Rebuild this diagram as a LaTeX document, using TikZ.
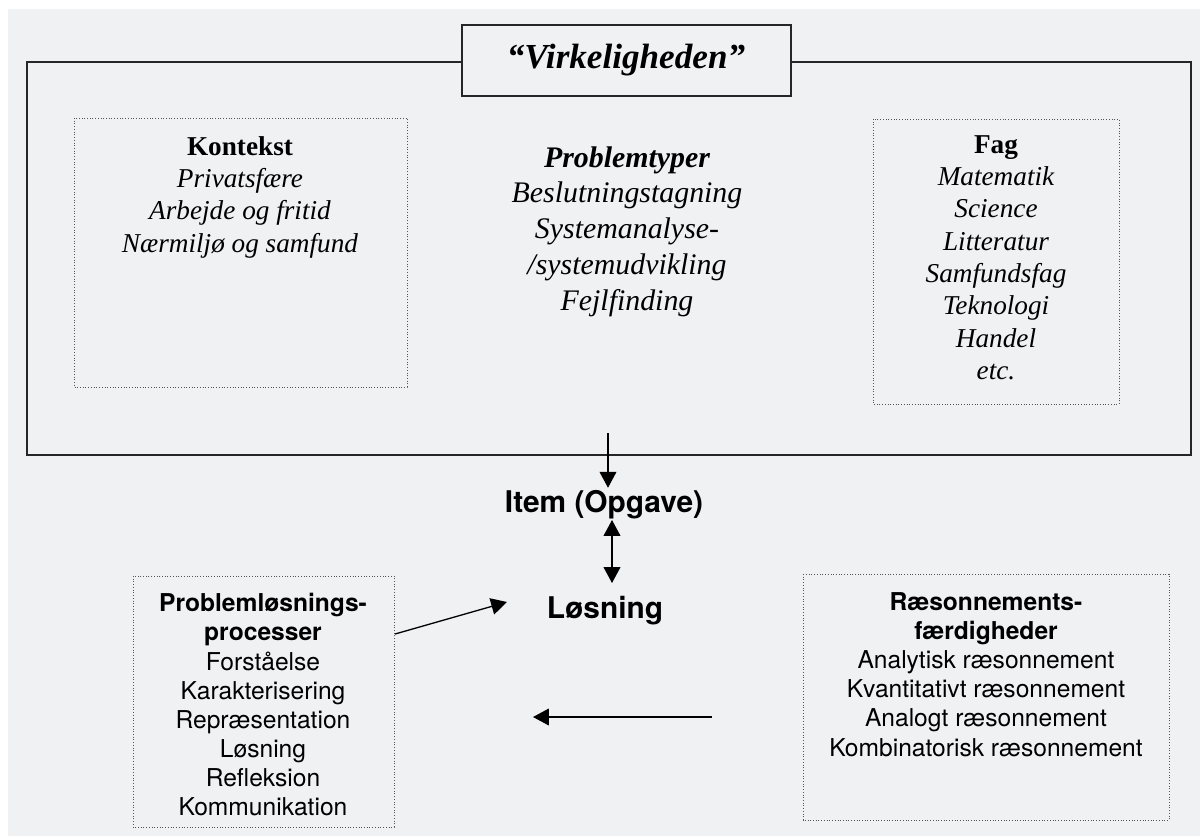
\documentclass[tikz,border=0pt]{standalone}
\usepackage{fontspec}
\setmainfont{Liberation Serif}
\setsansfont{TeX Gyre Heros}
\usetikzlibrary{arrows.meta}
\definecolor{bggray}{RGB}{240,241,243}
\definecolor{dotgray}{RGB}{85,85,85}

\tikzset{
  linebox/.style={draw=black!85, line width=0.8pt},
  dotbox/.style={draw=dotgray, densely dotted, line width=0.55pt},
  arr/.style={-{Triangle[length=9pt,width=9.5pt]}, line width=0.75pt},
  serifbody/.style={align=center, inner sep=0pt, anchor=north,
    font=\fontsize{15.5}{18.4}\selectfont\itshape},
  sansbody/.style={align=center, inner sep=0pt, anchor=north,
    font=\sffamily\fontsize{14}{16.6}\selectfont},
  biglabel/.style={inner sep=1pt, anchor=base,
    font=\sffamily\bfseries\fontsize{17}{20}\selectfont},
}

\begin{document}
\begin{tikzpicture}[x=0.02cm,y=-0.02cm]
\useasboundingbox (0,0) rectangle (1200,836);
\fill[white] (0,0) rectangle (1200,836);
\fill[bggray] (8,9) rectangle (1200,836);

% "Virkeligheden" frame with its title
\draw[linebox] (27,62) rectangle (1191,455);
\draw[linebox, fill=bggray] (462,25) rectangle (791,96);
\node[anchor=base, inner sep=0pt, font=\fontsize{20}{24}\selectfont\bfseries\itshape]
  (title) at (626,68) {``Virkeligheden''};

% three columns inside the frame
\draw[dotbox] (74,118) rectangle (407,387);
\node[serifbody] (kontekst) at (240,136)
  {\textup{\textbf{Kontekst}}\\Privatsfære\\Arbejde og fritid\\Nærmiljø og samfund};

\node[serifbody, font=\fontsize{17}{20.4}\selectfont\itshape] (problemtyper) at (627,146)
  {\textbf{Problemtyper}\\Beslutningstagning\\Systemanalyse-\\/systemudvikling\\Fejlfinding};

\draw[dotbox] (873,119) rectangle (1119,404);
\node[serifbody] (fag) at (996,135)
  {\textup{\textbf{Fag}}\\Matematik\\Science\\Litteratur\\Samfundsfag\\Teknologi\\Handel\\etc.};

% item and solution
\node[biglabel] (item) at (604,512) {Item (Opgave)};
\node[biglabel] (losning) at (605,618) {Løsning};

% lower boxes
\draw[dotbox] (133,576) rectangle (394,827);
\node[sansbody] (processer) at (263,593)
  {\textbf{Problemløsnings-}\\\textbf{processer}\\Forståelse\\Karakterisering\\Repræsentation\\Løsning\\Refleksion\\Kommunikation};

\draw[dotbox] (803,574) rectangle (1169,820);
\node[sansbody] (raesonnement) at (986,592)
  {\textbf{Ræsonnements-}\\\textbf{færdigheder}\\Analytisk ræsonnement\\Kvantitativt ræsonnement\\Analogt ræsonnement\\Kombinatorisk ræsonnement};

% arrows
\coordinate (framein) at (608,433);
\coordinate (itembot) at (612,520);
\coordinate (losningtop) at (612,583);
\coordinate (procout) at (395,634);
\coordinate (losningin) at (507,602);
\coordinate (raesout) at (712,717);
\coordinate (procin) at (533,717);

\draw[arr] (framein) -- (framein |- item.north);
\draw[arr, {Triangle[length=9pt,width=9.5pt]}-{Triangle[length=9pt,width=9.5pt]}] (itembot) -- (losningtop);
\draw[arr] (procout) -- (losningin);
\draw[arr] (raesout) -- (procin);
\end{tikzpicture}
\end{document}
